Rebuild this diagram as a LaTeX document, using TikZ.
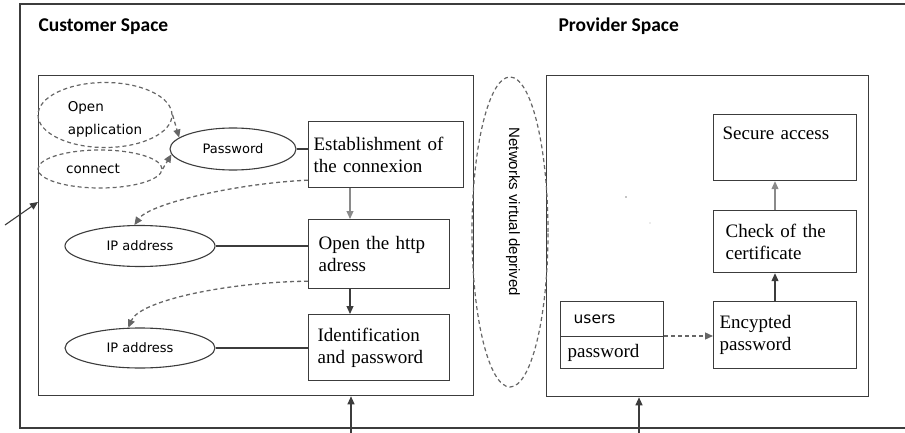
\documentclass[tikz,border=0pt]{standalone}
\usepackage{fontspec}
\setmainfont{Liberation Serif}
\newfontfamily\uisans{DejaVu Sans}
\newfontfamily\headsans{Carlito}
\newfontfamily\arialike{Liberation Sans}
\usetikzlibrary{arrows.meta,shapes.geometric,calc}
\definecolor{edge}{HTML}{3C3C3C}
\definecolor{dashgray}{HTML}{666666}
\definecolor{lightline}{HTML}{8A8A8A}
\begin{document}
\begin{tikzpicture}[x=1pt,y=-1pt,
  frame/.style={draw=edge, line width=1.6pt},
  box/.style={draw=edge, line width=1.2pt, rectangle, anchor=north west,
    align=left, font=\fontsize{19}{22}\selectfont, inner ysep=0pt},
  ell/.style={ellipse, draw=edge, line width=1.1pt, inner sep=0pt,
    font=\uisans\fontsize{13}{15}\selectfont},
  dell/.style={ellipse, draw=dashgray, line width=1.2pt, dash pattern=on 4pt off 3pt,
    inner sep=0pt, font=\uisans\fontsize{13.5}{23}\selectfont},
  tip/.style={-{Triangle[length=8pt,width=7pt]}},
  conn/.style={draw=edge, line width=1.1pt},
  dconn/.style={draw=dashgray, line width=1.3pt, dash pattern=on 4pt off 3pt},
  lconn/.style={draw=lightline, line width=1.1pt},
  title/.style={anchor=base west, font=\headsans\bfseries\fontsize{19.5}{21}\selectfont}
]
\useasboundingbox (0,0) rectangle (905,433);

% outer frame (runs off to the right)
\draw[frame] (906,4) -- (20,4) -- (20,428) -- (906,428);

% space headings
\node[title] (ctitle) at (35,32) {Customer Space};
\node[title] (ptitle) at (555,32) {Provider Space};

% the two spaces
\node[draw=edge, line width=1.3pt, anchor=north west, minimum width=435pt,
      minimum height=320pt, inner sep=0pt] (cust) at (38,75) {};
\node[draw=edge, line width=1.3pt, anchor=north west, minimum width=322pt,
      minimum height=321pt, inner sep=0pt] (prov) at (546,75) {};

% virtual network between them
\node[dell, minimum width=76pt, minimum height=310pt] (vpn) at (510,232) {};
\node[rotate=-90, font=\arialike\fontsize{15}{17}\selectfont] (vpntext) at (513,212)
  {Networks virtual deprived};

% customer side: steps
\node[box, inner xsep=5pt, text width=145pt, minimum height=66pt] (est) at (308,121)
  {Establishment of\\the connexion};
\node[box, inner xsep=10pt, text width=121pt, minimum height=69pt] (http) at (308,219)
  {Open the http\\adress};
\node[box, inner xsep=9pt, text width=123pt, minimum height=66pt] (ident) at (308,314)
  {Identification\\and password};

% customer side: ellipses
\node[dell, minimum width=134pt, minimum height=65pt, align=left, text height=42pt]
  (openapp) at (105,115) {Open\\application};
\node[dell, minimum width=124pt, minimum height=38pt] (connect) at (100,169)
  {connect\hspace*{14pt}};
\node[ell, minimum width=126pt, minimum height=42pt] (pw) at (233,149) {Password};
\node[ell, minimum width=150pt, minimum height=41pt] (ip1) at (140,246) {IP address};
\node[ell, minimum width=150pt, minimum height=40pt] (ip2) at (140,348) {IP address};

% provider side
\node[box, inner xsep=9pt, text width=125pt, minimum height=66pt] (secure) at (713,114)
  {Secure access\\ \strut};
\node[box, inner xsep=12pt, text width=119pt, minimum height=62pt] (check) at (713,210)
  {Check of the\\certificate};
\node[box, inner xsep=6pt, text width=131pt, minimum height=67pt] (enc) at (713,301)
  {Encypted\\password};
\node[box, inner xsep=13pt, text width=77pt, minimum height=35pt,
      font=\uisans\fontsize{15.5}{18}\selectfont] (users) at (560,301) {users};
\node[box, inner xsep=7pt, text width=89pt, minimum height=32pt] (upass) at (560,336)
  {password};

% small specks inside the provider space
\fill[lightline] (626,197) circle (0.8);
\fill[lightline!70] (650,223) circle (0.7);

% entry into the customer space
\coordinate (ext) at (5,225);
\draw[conn, tip] (ext) -- ($(cust.north west)+(0,127)$);

% customer connectors
\draw[dconn, tip] (openapp.east) -- (pw.168);
\draw[dconn, tip] (connect.east) -- (pw.185);
\draw[conn] (pw.east) -- (pw.east -| est.west);
\draw[conn] (ip1.east) -- (ip1.east -| http.west);
\draw[conn] (ip2.east) -- (ip2.east -| ident.west);
\draw[dconn, tip] ($(est.south west)+(0,-8)$) .. controls (240,183) and (150,203) .. (ip1.105);
\draw[dconn, tip] ($(http.south west)+(0,-8)$) .. controls (230,282) and (140,300) .. (ip2.120);
\draw[lconn, tip] ($(est.south west)+(42,0)$) -- ($(http.north west)+(42,0)$);
\draw[conn, tip] ($(http.south west)+(42,0)$) -- ($(ident.north west)+(42,0)$);

% provider connectors
\draw[dconn, tip] (upass.north east) -- (upass.north east -| enc.west);
\draw[conn, tip] ($(enc.north west)+(62,0)$) -- ($(check.south west)+(62,0)$);
\draw[lconn, tip] ($(check.north west)+(62,0)$) -- ($(secure.south west)+(62,0)$);

% feeds from below
\coordinate (feedA) at (351,434);
\coordinate (feedB) at (639,434);
\draw[conn, tip] (feedA) -- (feedA |- cust.south);
\draw[conn, tip] (feedB) -- (feedB |- prov.south);
\end{tikzpicture}
\end{document}
